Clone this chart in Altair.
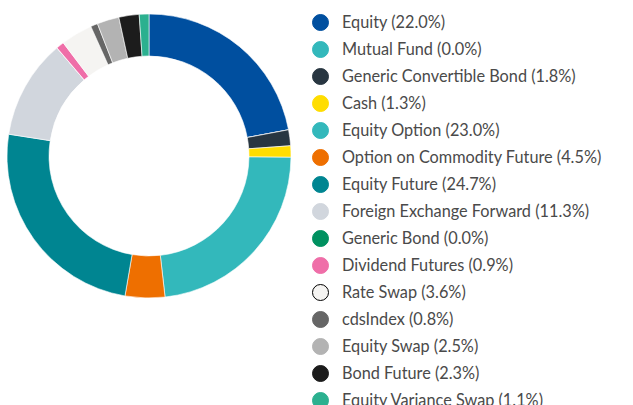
import altair as alt
import pandas as pd

names = ["Equity", "Mutual Fund", "Generic Convertible Bond", "Cash", "Equity Option",
         "Option on Commodity Future", "Equity Future", "Foreign Exchange Forward",
         "Generic Bond", "Dividend Futures", "Rate Swap", "cdsIndex", "Equity Swap",
         "Bond Future", "Equity Variance Swap"]
values = [22.0, 0.0, 1.8, 1.3, 23.0, 4.5, 24.7, 11.3, 0.0, 0.9, 3.6, 0.8, 2.5, 2.3, 1.1]
colors = ["#004f9f", "#33b8bb", "#283641", "#ffdd00", "#33b8bb", "#ee6f00", "#008591",
          "#d1d6dd", "#009160", "#ef6ea8", "#f5f4f2", "#666666", "#b3b3b3", "#1c1c1c",
          "#2bb08f"]

labels = [f"{n} ({v:.1f}%)" for n, v in zip(names, values)]
df = pd.DataFrame({"label": labels, "value": values, "idx": list(range(len(names)))})

rate_label = labels[names.index("Rate Swap")]

chart = alt.Chart(df).mark_arc(innerRadius=100, outerRadius=142, stroke="white", strokeWidth=0.6).encode(
    theta=alt.Theta("value:Q", stack=True),
    order=alt.Order("idx:Q"),
    color=alt.Color(
        "label:N",
        scale=alt.Scale(domain=labels, range=colors),
        sort=labels,
        legend=alt.Legend(
            title=None,
            orient="none",
            legendX=312,
            legendY=14,
            symbolType="circle",
            symbolSize=256,
            labelFontSize=16.3,
            labelFont="Lato",
            labelColor="#4a4a4a",
            labelOffset=13,
            rowPadding=6,
            labelLimit=400,
            padding=0,
            symbolStrokeColor={"expr": f"datum.value === '{rate_label}' ? '#000000' : scale('color', datum.value)"},
            symbolStrokeWidth=1,
        ),
    ),
).properties(width=298, height=312, padding=0).configure_view(stroke=None)

chart.save("out.html", embed_options={"renderer": "svg", "actions": False})
